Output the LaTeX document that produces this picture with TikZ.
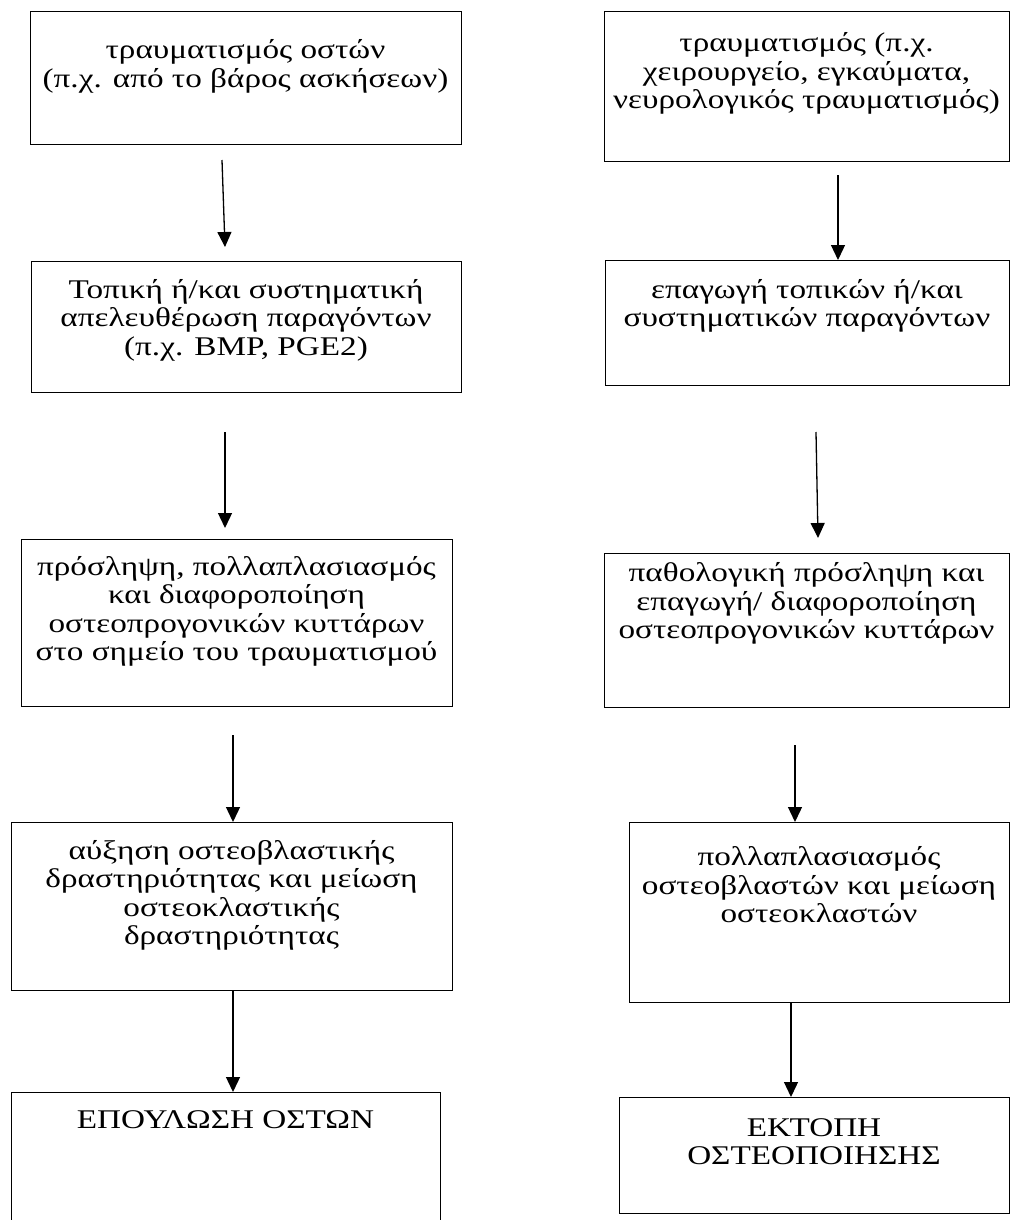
\documentclass[tikz,border=0pt]{standalone}
\usepackage{fontspec}
\setmainfont[FakeStretch=1.23]{Liberation Serif}
\usetikzlibrary{arrows.meta}
\begin{document}
\begin{tikzpicture}[x=1pt,y=-1pt,
  box/.style={draw, line width=1.4pt, inner sep=0pt, anchor=north west},
  txt/.style={font=\fontsize{27}{28.5}\selectfont, align=center, anchor=base, inner sep=0pt},
  arr/.style={line width=1.3pt, -{Triangle[width=14pt,length=15pt]}}]
\useasboundingbox (0,0) rectangle (1011,1220);
% left column boxes
\node[box, minimum width=431pt, minimum height=133pt] (L1) at (30,11) {};
\node[box, minimum width=430pt, minimum height=131pt] (L2) at (31,261) {};
\node[box, minimum width=431pt, minimum height=167pt] (L3) at (21,539) {};
\node[box, minimum width=441pt, minimum height=168pt] (L4) at (11,822) {};
\begin{scope}
\clip (0,0) rectangle (1011,1220);
\node[box, minimum width=429pt, minimum height=150pt] (L5) at (11,1092) {};
\end{scope}
% right column boxes
\node[box, minimum width=405pt, minimum height=150pt] (R1) at (604,11) {};
\node[box, minimum width=404pt, minimum height=125pt] (R2) at (605,260) {};
\node[box, minimum width=405pt, minimum height=154pt] (R3) at (604,553) {};
\node[box, minimum width=380pt, minimum height=180pt] (R4) at (629,822) {};
\node[box, minimum width=390pt, minimum height=116pt] (R5) at (619,1097) {};
% texts (anchored at the baseline of the last line)
\node[txt] (tL1) at (245.5,87.5) {τραυματισμός οστών\\(π.χ. από το βάρος ασκήσεων)};
\node[txt] (tL2) at (246,355) {Τοπική ή/και συστηματική\\απελευθέρωση παραγόντων\\(π.χ. BMP, PGE2)};
\node[txt] (tL3) at (236.5,660.5) {πρόσληψη, πολλαπλασιασμός\\και διαφοροποίηση\\οστεοπρογονικών κυττάρων\\στο σημείο του τραυματισμού};
\node[txt] (tL4) at (231.5,944.5) {αύξηση οστεοβλαστικής\\δραστηριότητας και μείωση\\οστεοκλαστικής\\δραστηριότητας};
\node[txt] (tL5) at (225.5,1128) {ΕΠΟΥΛΩΣΗ ΟΣΤΩΝ};
\node[txt] (tR1) at (806.5,109) {τραυματισμός (π.χ.\\χειρουργείο, εγκαύματα,\\νευρολογικός τραυματισμός)};
\node[txt] (tR2) at (807,326.5) {επαγωγή τοπικών ή/και\\συστηματικών παραγόντων};
\node[txt] (tR3) at (806.5,638.5) {παθολογική πρόσληψη και\\επαγωγή/ διαφοροποίηση\\οστεοπρογονικών κυττάρων};
\node[txt] (tR4) at (819,922.5) {πολλαπλασιασμός\\οστεοβλαστών και μείωση\\οστεοκλαστών};
\node[txt] (tR5) at (814,1164.5) {ΕΚΤΟΠΗ\\ΟΣΤΕΟΠΟΙΗΣΗΣ};
% arrow end points
\coordinate (a1s) at (222,160); \coordinate (a1e) at (225,247);
\coordinate (a2s) at (225,432); \coordinate (a2e) at (225,528);
\coordinate (a3s) at (233,735); \coordinate (a3e) at (233,822);
\coordinate (a4s) at (233,990); \coordinate (a4e) at (233,1092);
\coordinate (b1s) at (838,175); \coordinate (b1e) at (838,260);
\coordinate (b2s) at (816,432); \coordinate (b2e) at (818,538);
\coordinate (b3s) at (795,745); \coordinate (b3e) at (795,822);
\coordinate (b4s) at (791,1002); \coordinate (b4e) at (791,1097);
% arrows
\draw[arr] (a1s) -- (a1e);
\draw[arr] (a2s) -- (a2e);
\draw[arr] (a3s) -- (a3e);
\draw[arr] (a4s) -- (a4e);
\draw[arr] (b1s) -- (b1e);
\draw[arr] (b2s) -- (b2e);
\draw[arr] (b3s) -- (b3e);
\draw[arr] (b4s) -- (b4e);
\end{tikzpicture}
\end{document}
